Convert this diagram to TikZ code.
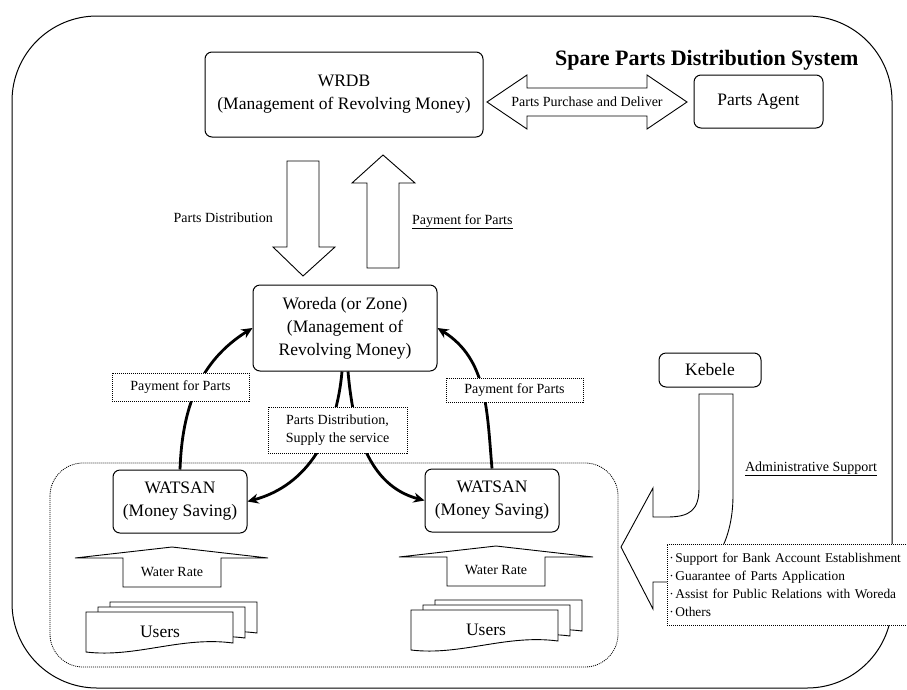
\documentclass[tikz,border=0pt]{standalone}
\usepackage{fontspec}
\setmainfont{Liberation Serif}
\usetikzlibrary{arrows.meta,positioning,calc}
\newcommand\mainsz{\fontsize{17.5}{23}\selectfont}
\newcommand\labsz{\fontsize{14}{18}\selectfont}
\newcommand\bulsz{\fontsize{13.4}{18}\selectfont}

\begin{document}
\begin{tikzpicture}[x=1pt, y=1pt,
  box/.style={draw, line width=1pt, rounded corners=7pt, align=center, font=\mainsz, inner sep=2pt},
  dbox/.style={draw, dash pattern=on 1pt off 1pt, line width=0.8pt, fill=white, align=center, font=\labsz, inner sep=2pt},
  blk/.style={draw, line width=0.9pt, fill=white, line join=miter},
  carr/.style={-{Stealth[length=11pt,width=10pt]}, line width=2.8pt},
  lab/.style={font=\labsz, inner sep=0pt},
  doc/.style={draw, line width=0.9pt, fill=white}
]
\useasboundingbox (0,0) rectangle (907,-689);

% frame and WATSAN area
\draw[line width=1pt, rounded corners=85pt] (12,-16) rectangle (892,-688);
\draw[dash pattern=on 1pt off 1pt, line width=0.8pt, rounded corners=33pt] (50,-463) rectangle (618,-667);

\node[font=\fontsize{22}{26}\selectfont\bfseries, anchor=base east] (title) at (862,-65) {Spare Parts Distribution System};

% main boxes
\node[box, minimum width=278pt, minimum height=85pt] (wrdb) at (344,-94.5) {WRDB\\(Management of Revolving Money)};
\node[box, minimum width=129pt, minimum height=53pt] (agent) at (758.5,-101.5) {Parts Agent};
\node[box, minimum width=184pt, minimum height=86pt] (woreda) at (345,-328) {Woreda (or Zone)\\(Management of\\Revolving Money)};
\node[box, minimum width=134pt, minimum height=63pt] (watL) at (180,-501.5) {WATSAN\\(Money Saving)};
\node[box, minimum width=134pt, minimum height=63pt] (watR) at (492,-500.5) {WATSAN\\(Money Saving)};
\node[box, minimum width=102pt, minimum height=34pt] (kebele) at (710,-370) {Kebele};

% block arrows
\draw[blk] (487,-102) -- (527,-75) -- (527,-88) -- (647,-88) -- (647,-75) -- (687,-102)
  -- (647,-129) -- (647,-116) -- (527,-116) -- (527,-129) -- cycle;
\node[lab] (purch) at (587,-102) {Parts Purchase and Deliver};
\draw[blk] (287,-161) -- (319,-161) -- (319,-247) -- (335,-247) -- (303,-276) -- (273,-247) -- (287,-247) -- cycle;
\draw[blk] (367,-268) -- (367,-183) -- (352,-183) -- (383,-155) -- (415,-183) -- (399,-183) -- (399,-268) -- cycle;
\node[lab, anchor=east] (pdist) at (273,-218) {Parts Distribution};
\node[lab, anchor=base west] (ppay) at (412,-224) {\underline{Payment for Parts}};

\draw[blk] (75,-558) -- (172,-547) -- (268,-558) -- (221,-558) -- (221,-587) -- (123,-587) -- (123,-558) -- cycle;
\draw[blk] (399,-557) -- (496,-546) -- (593,-557) -- (545,-557) -- (545,-586) -- (447,-586) -- (447,-557) -- cycle;
\node[lab] (wrL) at (172,-572) {Water Rate};
\node[lab] (wrR) at (496,-570) {Water Rate};

% users
\foreach \x/\y in {110/-602, 98/-607, 86/-612, 435/-600, 423/-605, 411/-610}
  \draw[doc] (\x,\y) -- (\x+147,\y) -- (\x+147,\y-31)
    .. controls (\x+95,\y-24) and (\x+50,\y-46) .. (\x,\y-40) -- cycle;
\node[font=\mainsz] (usrL) at (160,-632) {Users};
\node[font=\mainsz] (usrR) at (486,-630) {Users};

% money and parts flow
\draw[carr] (watL.north) to[out=88, in=212] (woreda.west);
\draw[carr] (watR.north) to[out=95, in=-32] (woreda.east);
\draw[carr] ([xshift=-3pt]woreda.south) to[out=-95, in=15] (watL.east);
\draw[carr] ([xshift=3pt]woreda.south) to[out=-85, in=165] (watR.west);

\node[dbox, minimum width=137pt, minimum height=28pt] (payL) at (180.5,-387) {Payment for Parts};
\node[dbox, minimum width=137pt, minimum height=24pt] (payR) at (514.5,-390) {Payment for Parts};
\node[dbox, minimum width=139pt, minimum height=46pt] (distlab) at (337.5,-430) {Parts Distribution,\\Supply the service};

% Kebele support
\draw[blk] (699,-394) -- (699,-488) .. controls (699,-510) and (690,-517) .. (667,-517)
  -- (653,-517) -- (653,-488) -- (621,-547) -- (653,-609) -- (653,-582) -- (670,-582)
  .. controls (710,-582) and (733,-545) .. (733,-495) -- (733,-394) -- cycle;
\node[lab, anchor=base] (adm) at (811,-471) {\underline{Administrative Support}};
\node[dbox, anchor=west, align=left, font=\bulsz, text width=250pt, minimum height=81pt] (supp) at (667,-584.5)
  {\makebox[6pt][l]{·}Support for Bank Account Establishment\\
   \makebox[6pt][l]{·}Guarantee of Parts Application\\
   \makebox[6pt][l]{·}Assist for Public Relations with Woreda\\
   \makebox[6pt][l]{·}Others};
\end{tikzpicture}
\end{document}
